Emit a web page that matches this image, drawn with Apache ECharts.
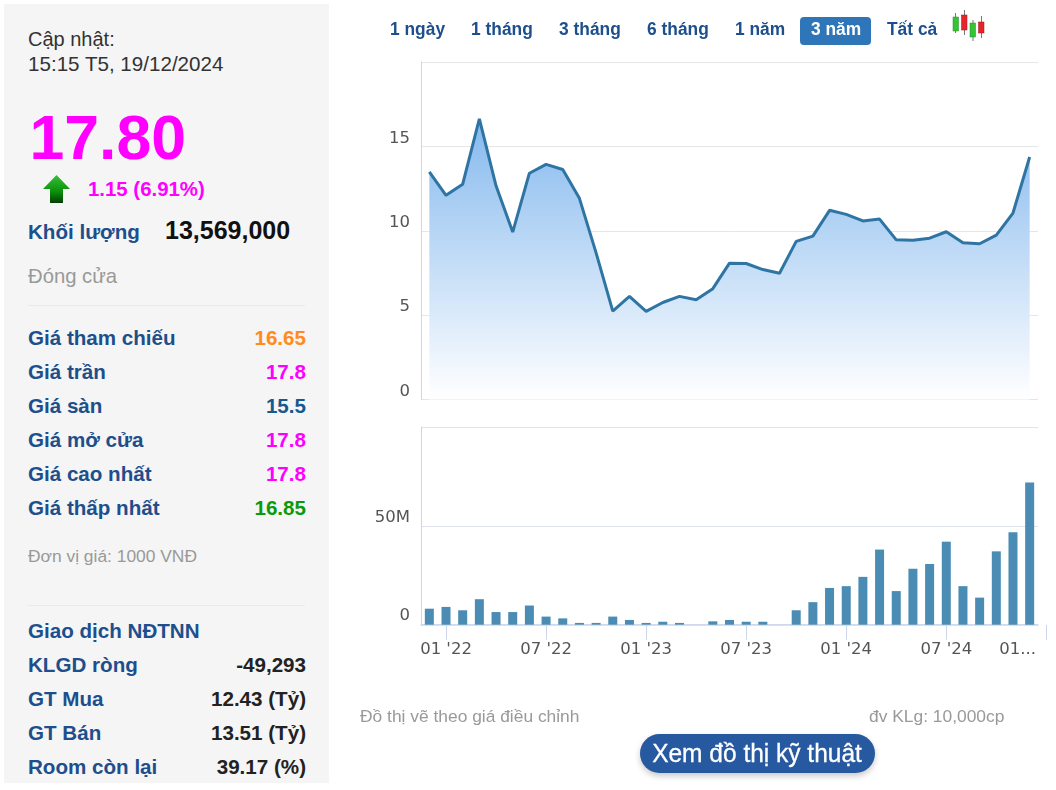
<!DOCTYPE html>
<html><head><meta charset="utf-8">
<script src="https://cdn.jsdelivr.net/npm/echarts@6/dist/echarts.min.js"></script>
<style>
html,body{margin:0;padding:0;background:#fff;width:1056px;height:790px;overflow:hidden;font-family:"Liberation Sans",Arial,sans-serif}
#chart{position:absolute;left:0;top:0;width:1056px;height:790px}
#panel{position:absolute;left:4px;top:4px;width:325px;height:779px;background:#f5f5f5}
.t{position:absolute;white-space:nowrap;line-height:1;transform:translateY(-50%)}
.lab{font-weight:bold;color:#1d4f8c;font-size:20.6px;left:28px}
.val{font-weight:bold;font-size:20.6px;right:750px}
.sep{position:absolute;left:28px;width:277px;height:1px;background:#e9e9e9}
.tab{position:absolute;top:29px;transform:translateY(-50%) scaleX(.93);transform-origin:left center;font-weight:bold;font-size:18.7px;color:#1d4f8c;white-space:nowrap;line-height:1}
#active{position:absolute;left:800px;top:17px;width:71px;height:28px;background:#2f76b8;border-radius:4px}
#btn{position:absolute;left:640px;top:734px;width:235px;height:39px;border-radius:20px;background:#26599f;box-shadow:0 3px 6px rgba(0,0,0,.22);color:#fff;font-size:25px;text-align:center;line-height:39px}
#btn span{display:inline-block;transform:scaleX(.98);-webkit-text-stroke:.3px #fff}
</style></head><body>
<div id="chart"></div>
<div id="panel"></div>
<div class="t" style="left:28px;top:39px;font-size:20px;color:#333">Cập nhật:</div>
<div class="t" style="left:28px;top:64px;font-size:20.6px;color:#333">15:15 T5, 19/12/2024</div>
<div class="t" style="left:29.5px;top:137px;font-size:62.6px;font-weight:bold;color:#ff00ff">17.80</div>
<svg style="position:absolute;left:43px;top:175px" width="28" height="30" viewBox="0 0 28 30"><defs><linearGradient id="ag" x1="0" y1="0" x2="0" y2="1"><stop offset="0" stop-color="#35c235"/><stop offset=".6" stop-color="#0c8f0c"/><stop offset="1" stop-color="#033f03"/></linearGradient></defs><path d="M13.5 0 L27 14 L20 14 L20 28 L7 28 L7 14 L0 14 Z" fill="url(#ag)"/></svg>
<div class="t" style="left:88px;top:189px;font-size:20.4px;font-weight:bold;color:#ff00ff">1.15 (6.91%)</div>
<div class="t lab" style="top:232px">Khối lượng</div>
<div class="t" style="left:165px;top:230px;font-size:25px;font-weight:bold;color:#111">13,569,000</div>
<div class="t" style="left:28px;top:276px;font-size:20.3px;color:#999">Đóng cửa</div>
<div class="sep" style="top:305px"></div>
<div class="t lab" style="top:338px">Giá tham chiếu</div><div class="t val" style="top:338px;color:#ff8c1a">16.65</div>
<div class="t lab" style="top:372px">Giá trần</div><div class="t val" style="top:372px;color:#ff00ff">17.8</div>
<div class="t lab" style="top:406px">Giá sàn</div><div class="t val" style="top:406px;color:#14598f">15.5</div>
<div class="t lab" style="top:440px">Giá mở cửa</div><div class="t val" style="top:440px;color:#ff00ff">17.8</div>
<div class="t lab" style="top:474px">Giá cao nhất</div><div class="t val" style="top:474px;color:#ff00ff">17.8</div>
<div class="t lab" style="top:508px">Giá thấp nhất</div><div class="t val" style="top:508px;color:#0a9a0a">16.85</div>
<div class="t" style="left:28px;top:557px;font-size:17.4px;color:#999">Đơn vị giá: 1000 VNĐ</div>
<div class="sep" style="top:605px"></div>
<div class="t lab" style="top:631px">Giao dịch NĐTNN</div>
<div class="t lab" style="top:665px">KLGD ròng</div><div class="t val" style="top:665px;color:#222">-49,293</div>
<div class="t lab" style="top:699px">GT Mua</div><div class="t val" style="top:699px;color:#222">12.43 (Tỷ)</div>
<div class="t lab" style="top:733px">GT Bán</div><div class="t val" style="top:733px;color:#222">13.51 (Tỷ)</div>
<div class="t lab" style="top:767px">Room còn lại</div><div class="t val" style="top:767px;color:#222">39.17 (%)</div>

<div id="active"></div>
<div class="tab" style="left:390px">1 ngày</div>
<div class="tab" style="left:471px">1 tháng</div>
<div class="tab" style="left:559px">3 tháng</div>
<div class="tab" style="left:647px">6 tháng</div>
<div class="tab" style="left:735px">1 năm</div>
<div class="tab" style="left:811px;color:#fff">3 năm</div>
<div class="tab" style="left:887px">Tất cả</div>
<svg style="position:absolute;left:950px;top:8px" width="38" height="36">
<g stroke="#777" stroke-width="1"><line x1="5.5" y1="5" x2="5.5" y2="25"/><line x1="14.5" y1="2" x2="14.5" y2="27"/><line x1="23" y1="12" x2="23" y2="33"/><line x1="31.5" y1="8" x2="31.5" y2="30"/></g>
<rect x="3" y="9" width="5.5" height="14" fill="#35c435" stroke="#2a8a2a" stroke-width=".5"/><rect x="11.5" y="7" width="5.5" height="15" fill="#e5252a" stroke="#a01a1a" stroke-width=".5"/><rect x="20" y="15" width="5.5" height="14" fill="#35c435" stroke="#2a8a2a" stroke-width=".5"/><rect x="28.5" y="14" width="5.5" height="11" fill="#e5252a" stroke="#a01a1a" stroke-width=".5"/></svg>

<div class="t" style="left:360px;top:717px;font-size:17.4px;color:#999">Đồ thị vẽ theo giá điều chỉnh</div>
<div class="t" style="left:869px;top:717px;font-size:17.4px;color:#999">đv KLg: 10,000cp</div>
<div id="btn"><span>Xem đồ thị kỹ thuật</span></div>

<script>
const categories = ["12 '21","01 '22","02 '22","03 '22","04 '22","05 '22","06 '22","07 '22","08 '22","09 '22","10 '22","11 '22","12 '22","01 '23","02 '23","03 '23","04 '23","05 '23","06 '23","07 '23","08 '23","09 '23","10 '23","11 '23","12 '23","01 '24","02 '24","03 '24","04 '24","05 '24","06 '24","07 '24","08 '24","09 '24","10 '24","11 '24","12 '24"];
const prices = [13.49,12.1,12.76,16.63,12.66,9.92,13.41,13.93,13.63,11.92,8.69,5.24,6.11,5.22,5.75,6.11,5.91,6.57,8.08,8.06,7.7,7.48,9.37,9.68,11.21,10.97,10.58,10.69,9.46,9.44,9.56,9.94,9.29,9.23,9.74,11.05,14.37];
const volumes = [8.1,9,7.3,12.9,6.4,6.4,9.7,4.1,3.2,0.9,0.9,4.1,2.4,0.9,1.5,0.9,0,1.7,2.4,1.5,1.5,0,7.3,11.4,18.6,19.5,24.2,38,17,28.3,30.7,42,19.5,13.7,37.1,46.8,71.9];
const priceTicks = [0,5,10,15];
const volumeTicks = [0,50];
const lastLabel = "01...";

const axisFont = {fontFamily:'"DejaVu Sans",sans-serif',fontSize:16.5,color:'#555'};
const grey = '#e6e6e6', blue = '#ccd6eb';
const isTick = i => i % 6 === 1;
const chart = echarts.init(document.getElementById('chart'),null,{renderer:'canvas'});
const L=421,R=18;
chart.setOption({
  animation:false,
  grid:[{left:L,right:R,top:62,height:337.5},{left:L,right:R,top:427,height:197.7}],
  xAxis:[
   {type:'category',gridIndex:0,data:categories,boundaryGap:true,axisLine:{show:false},axisTick:{show:false},axisLabel:{show:false},splitLine:{show:false}},
   {type:'category',gridIndex:1,data:categories,boundaryGap:true,
    axisLine:{show:true,lineStyle:{color:blue,width:1.5}},
    axisTick:{show:true,alignWithLabel:true,length:15,interval:(i)=>isTick(i),lineStyle:{color:blue}},
    axisLabel:{...axisFont,margin:17,interval:(i)=>isTick(i)||i===categories.length-1,hideOverlap:false,
      formatter:(v,i)=>i===categories.length-1?'{t|'+lastLabel+'}':v,
      rich:{t:{...axisFont,padding:[0,24,0,0]}}},
    splitLine:{show:false}}
  ],
  yAxis:[
   {type:'value',gridIndex:0,min:0,max:20,interval:5,
    axisLine:{show:true,lineStyle:{color:blue}},axisTick:{show:false},
    splitLine:{show:true,lineStyle:{color:grey}},
    axisLabel:{...axisFont,margin:11,verticalAlign:'bottom',lineHeight:16,
      formatter:v=>priceTicks.includes(v)?String(v):''}},
   {type:'value',gridIndex:1,min:0,max:100,interval:50,
    axisLine:{show:true,lineStyle:{color:blue}},axisTick:{show:false},
    splitLine:{show:true,lineStyle:{color:'#dfe3ee'}},
    axisLabel:{...axisFont,margin:11,verticalAlign:'bottom',lineHeight:17,
      formatter:v=>volumeTicks.includes(v)?(v?v+'M':'0'):''}}
  ],
  series:[
   {type:'line',xAxisIndex:0,yAxisIndex:0,data:prices,symbol:'none',smooth:false,
    lineStyle:{color:'#2f75a3',width:3},
    areaStyle:{opacity:1,color:new echarts.graphic.LinearGradient(0,0,0,1,[{offset:0,color:'#85b9ee'},{offset:1,color:'#ffffff'}])}},
   {type:'bar',xAxisIndex:1,yAxisIndex:1,data:volumes,barWidth:9,itemStyle:{color:'#4a8cb3'}}
  ],
  graphic:[{type:'line',shape:{x1:1046.5,y1:625,x2:1046.5,y2:640},style:{stroke:blue,lineWidth:1}}]
});
</script>
</body></html>
